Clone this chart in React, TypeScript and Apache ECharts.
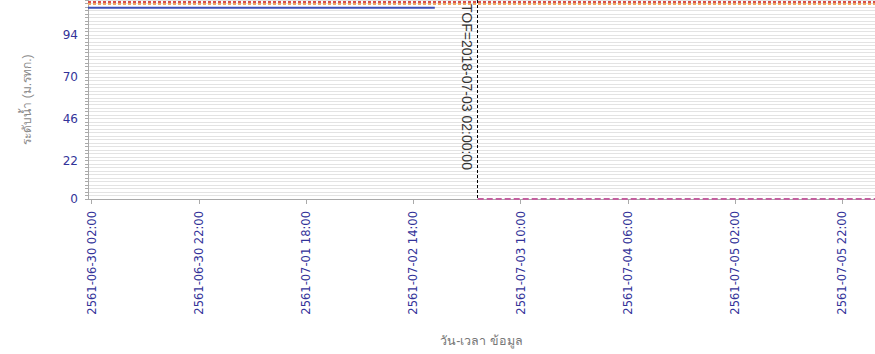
import React, { useEffect, useRef } from "react";
import * as echarts from "echarts";

// ---- data ----
const xTickTimes = [
  "2018-06-30 02:00",
  "2018-06-30 22:00",
  "2018-07-01 18:00",
  "2018-07-02 14:00",
  "2018-07-03 10:00",
  "2018-07-04 06:00",
  "2018-07-05 02:00",
  "2018-07-05 22:00",
];
const yTickValues = [0, 22, 46, 70, 94];

const observedTimes = ["2018-06-30 01:20", "2018-07-02 18:00"];
const observedValues = [109.6, 109.6];

const forecastTimes = ["2018-07-03 02:00", "2018-07-06 04:05"];
const forecastValues = [0, 0];

const bankLevel = 113.1;
const warnLevel = 111.7;
const tofTimeStr = "2018-07-03 02:00";
const tofLabel = "TOF=2018-07-03 02:00:00";

const xMinStr = "2018-06-30 01:20";
const xMaxStr = "2018-07-06 04:05";
const yMin = 0;
const yMax = 114;

const yName = "ระดับน้ำ (ม.รทก.)";
const xName = "วัน-เวลา ข้อมูล";

function t(s: string): number {
  const [d, h] = s.split(" ");
  const [Y, M, D] = d.split("-").map(Number);
  const [hh, mm] = h.split(":").map(Number);
  return Date.UTC(Y, M - 1, D, hh, mm);
}
function pad(n: number) {
  return n < 10 ? "0" + n : "" + n;
}
function fmt(v: number) {
  const d = new Date(v);
  return (
    d.getUTCFullYear() + 543 + "-" + pad(d.getUTCMonth() + 1) + "-" + pad(d.getUTCDate()) +
    " " + pad(d.getUTCHours()) + ":" + pad(d.getUTCMinutes())
  );
}

export default function App() {
  const ref = useRef<HTMLDivElement>(null);
  useEffect(() => {
    if (!ref.current) return;
    const chart = echarts.init(ref.current, null, { renderer: "svg" });
    const tof = t(tofTimeStr);
    const labelColor = "#333399";
    chart.setOption({
      animation: false,
      backgroundColor: "#ffffff",
      grid: { left: 88, right: 0, top: 0, bottom: 155, containLabel: false },
      xAxis: {
        type: "value",
        min: t(xMinStr),
        max: t(xMaxStr),
        name: xName,
        nameLocation: "middle",
        nameGap: 135,
        nameTextStyle: { color: "#777", fontSize: 12.5, fontFamily: "Tahoma, sans-serif" },
        axisLine: { show: true, lineStyle: { color: "#aaa", width: 1 } },
        axisTick: {
          show: true,
          length: 5,
          customValues: xTickTimes.map(t),
          lineStyle: { color: "#aaa" },
        },
        axisLabel: {
          customValues: xTickTimes.map(t),
          rotate: 90,
          margin: 12,
          color: labelColor,
          fontSize: 11.5,
          fontFamily: "DejaVu Sans",
          formatter: (v: number) => fmt(v),
        },
        splitLine: { show: false },
      },
      yAxis: {
        type: "value",
        min: yMin,
        max: yMax,
        interval: 2,
        name: yName,
        nameLocation: "middle",
        nameGap: 55,
        nameTextStyle: { color: "#888", fontSize: 12, fontFamily: "Tahoma, sans-serif" },
        axisLine: { show: true, lineStyle: { color: "#aaa", width: 1 } },
        axisTick: { show: true, length: 3, lineStyle: { color: "#aaa" } },
        axisLabel: {
          customValues: yTickValues,
          margin: 10,
          color: labelColor,
          fontSize: 12,
          fontFamily: "DejaVu Sans",
        },
        splitLine: { show: true, lineStyle: { color: "#e3e3e3", width: 1 } },
      },
      series: [
        {
          type: "line",
          symbol: "none",
          data: observedTimes.map((s, i) => [t(s), observedValues[i]]),
          lineStyle: { color: "#3d4fb5", width: 2 },
          markLine: {
            silent: true,
            symbol: ["none", "none"],
            label: { show: false },
            data: [
              { yAxis: warnLevel, lineStyle: { color: "#f0a860", width: 2, type: [3, 2] } },
              { yAxis: bankLevel, lineStyle: { color: "#d8504c", width: 2, type: [3, 2] } },
              [
                {
                  coord: [tof, yMax],
                  lineStyle: { color: "#000", width: 1, type: [3, 2] },
                  label: {
                    show: true,
                    formatter: tofLabel,
                    position: "insideStartBottom",
                    color: "#333",
                    fontSize: 14,
                    fontFamily: "Liberation Sans",
                    distance: 4,
                  },
                },
                { coord: [tof, yMin] },
              ],
            ],
          },
        },
        {
          type: "line",
          symbol: "none",
          data: forecastTimes.map((s, i) => [t(s), forecastValues[i]]),
          lineStyle: { color: "#c3609f", width: 2, type: [6, 3] },
        },
      ],
    });
    return () => chart.dispose();
  }, []);
  return (
    <div
      ref={ref}
      style={{ position: "fixed", left: 0, top: 0, width: 875, height: 354 }}
    />
  );
}
